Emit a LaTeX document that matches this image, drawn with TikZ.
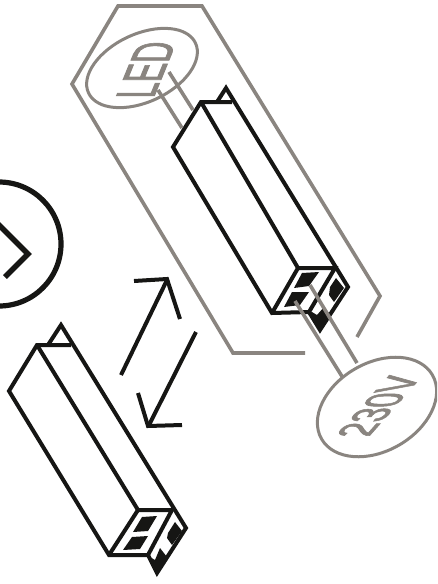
\documentclass[tikz,border=0pt]{standalone}
\usepackage{fontspec}
\setmainfont{Liberation Sans}
\newfontfamily\tagfont[FakeBold=2]{Liberation Sans}
\usetikzlibrary{positioning,shapes}
\definecolor{wiregray}{RGB}{138,133,128}
\definecolor{softblack}{RGB}{22,22,20}

\begin{document}
\begin{tikzpicture}[x=1pt, y=-1pt,
    outline/.style={draw=softblack, line width=4pt, line join=miter},
    patch/.style={fill=softblack, draw=none},
    wire/.style={draw=wiregray, line width=3.6pt},
    tag/.style={ellipse, draw=wiregray, line width=3pt, inner sep=0pt},
    tagtext/.style={text=wiregray, inner sep=0pt},
    swap/.style={draw=softblack, line width=4pt}]

\useasboundingbox (0,0) rectangle (437,584);
\clip (0,0) rectangle (437,584);

% grey frame
\draw[wire] (305,353) -- (233,353) -- (72,84) -- (118,6) -- (202,6) -- (380,296) -- (357,337);

% upper driver
\draw[outline] (232,102) -- (201,102) -- (173,147) -- (272,313) -- (309,312);
\draw[outline] (201,102) -- (298,268) -- (335,268) -- (309,312);
\draw[outline] (217,102) -- (226,88) -- (348,287) -- (320,330) -- (309,312);
\draw[outline] (272,313) -- (298,268);
\fill[patch] (302,273) -- (319,272) -- (309,286) -- (294,288) -- cycle;
\fill[patch] (292,292) -- (309,292) -- (300,305) -- (284,307) -- cycle;
\fill[patch] (330,287) -- (336,278) -- (344,288) -- (334,302) -- (329,295) -- cycle;
\fill[patch] (312,312) -- (317,315) -- (324,307) -- (329,313) -- (320,331) -- (309,313) -- cycle;

% lower driver
\draw[outline] (71,345) -- (37,345) -- (9,391) -- (109,555) -- (148,555);
\draw[outline] (37,345) -- (138,510) -- (172,510) -- (148,555);
\draw[outline] (48,345) -- (61,325) -- (186,528) -- (157,573) -- (148,555);
\draw[outline] (109,555) -- (138,510);
\fill[patch] (142,517) -- (157,516) -- (148,531) -- (133,532) -- cycle;
\fill[patch] (132,537) -- (148,536) -- (140,549) -- (123,550) -- cycle;
\fill[patch] (168,533) -- (175,522) -- (182,531) -- (172,545) -- (167,538) -- cycle;
\fill[patch] (150,557) -- (155,560) -- (160,548) -- (167,557) -- (157,575) -- (148,556) -- cycle;

% tags and wires
\node[tag, minimum width=118pt, minimum height=68pt, rotate=25] (ledtag) at (142,68) {};
\node[tag, minimum width=128pt, minimum height=88pt, rotate=30] (maintag) at (377,407) {};
\draw[wire] (158,90) -- (182,128);
\draw[wire] (169,72) -- (193,110);
\draw[wire] (295,301) -- (343,378);
\draw[wire] (310,285) -- (357,363);

\node[tagtext, cm={0.27,0.66,-1.25,0,(0,0)}, font=\tagfont\fontsize{44}{44}\selectfont] (ledlabel) at (146,70) {LED};
\node[tagtext, cm={0.60,0.68,-1.25,0,(0,0)}, font=\tagfont\fontsize{39}{39}\selectfont] (mainlabel) at (379,406) {230V};

% swap arrows
\draw[swap] (121,375) -- (167,280);
\draw[swap] (134,281) -- (167,279) -- (180,319);
\draw[swap] (196,332) -- (148,427);
\draw[swap] (138,393) -- (148,426) -- (182,425);

% round badge
\draw[draw=softblack, line width=5.2pt] (-1,244) circle (62);
\draw[draw=softblack, line width=5.6pt] (-5,221) -- (28,254) -- (5,277);

\end{tikzpicture}
\end{document}
